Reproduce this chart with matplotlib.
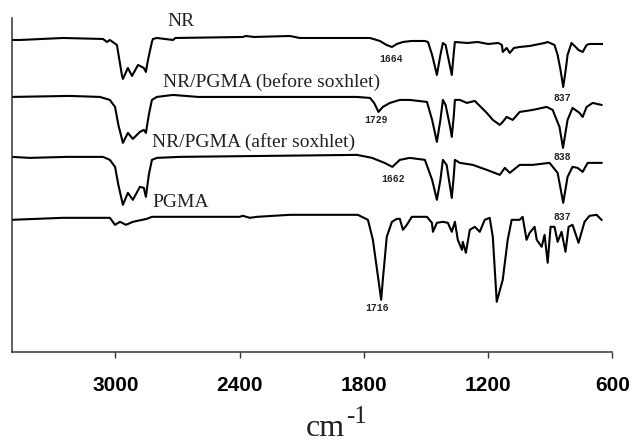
import matplotlib
matplotlib.use("Agg")
import matplotlib.pyplot as plt

# ---- data (wavenumber in cm^-1, transmittance in arbitrary offset units) ----
nr_wn = [3500, 3460, 3252, 3059, 3040, 3026, 2992, 2968, 2963, 2939, 2919, 2890, 2862, 2852, 2842,
         2823, 2818, 2799, 2721, 2710, 2384, 2370, 2330, 2157, 2109, 1964, 1829, 1770, 1722, 1690,
         1664, 1640, 1611, 1570, 1505, 1490, 1470, 1447, 1430, 1418, 1405, 1375, 1365, 1360, 1300,
         1250, 1200, 1150, 1133, 1129, 1110, 1095, 1075, 1047, 999, 927, 912, 879, 864, 850, 837,
         825, 816, 797, 777, 763, 743, 724, 710, 650]
nr_t = [312, 312, 314, 313, 310, 312, 307, 277, 273, 284, 276, 287, 284, 280, 292,
        310, 313, 314, 312, 314, 315, 316, 315, 316, 314, 314, 314, 314, 311, 307,
        305, 308, 310, 311, 311, 310, 297, 277, 297, 309, 307, 277, 300, 310, 309,
        310, 308, 309, 307, 300, 304, 299, 304, 305, 306, 309, 310, 307, 297, 282, 265,
        282, 297, 309, 305, 302, 300, 307, 308, 308]

before_wn = [3500, 3219, 3074, 3026, 3001, 2985, 2963, 2939, 2915, 2881, 2862, 2852, 2838, 2823,
             2799, 2721, 2600, 2109, 1833, 1770, 1750, 1729, 1708, 1674, 1626, 1578, 1495, 1470,
             1447, 1430, 1418, 1405, 1385, 1375, 1365, 1360, 1336, 1302, 1264, 1206, 1177, 1143,
             1129, 1110, 1081, 1047, 984, 917, 888, 855, 838, 816, 792, 758, 743, 724, 695, 652]
before_t = [255, 256, 255, 252, 245, 227, 209, 219, 213, 220, 222, 219, 237, 252,
            255, 257, 255, 255, 255, 254, 249, 240, 245, 249, 252, 252, 250, 232,
            210, 232, 252, 247, 227, 215, 237, 252, 252, 249, 251, 239, 232, 227,
            230, 235, 232, 240, 242, 245, 242, 225, 204, 232, 244, 239, 235, 245, 249, 247]

after_wn = [3500, 3412, 3233, 3059, 3026, 3001, 2985, 2963, 2939, 2915, 2881, 2862, 2852, 2838,
            2823, 2799, 2688, 1833, 1760, 1700, 1662, 1626, 1578, 1505, 1470, 1447, 1430, 1418,
            1400, 1375, 1365, 1360, 1336, 1274, 1206, 1143, 1119, 1095, 1047, 984, 903, 864, 837,
            816, 792, 768, 743, 719, 652]
after_t = [195, 194, 195, 195, 192, 185, 167, 147, 159, 152, 165, 164, 155, 177,
           192, 194, 195, 197, 194, 189, 185, 192, 194, 192, 172, 152, 172, 192,
           187, 154, 177, 192, 189, 187, 182, 177, 184, 179, 187, 187, 189, 179, 149,
           175, 185, 184, 180, 189, 189]

pgma_wn = [3500, 3252, 3026, 3001, 2977, 2948, 2915, 2847, 2823, 2400, 2384, 2350, 2316, 2157,
           2109, 1829, 1780, 1756, 1716, 1708, 1689, 1664, 1640, 1626, 1611, 1592, 1568, 1495,
           1471, 1466, 1447, 1418, 1394, 1375, 1360, 1346, 1326, 1322, 1307, 1288, 1264, 1240,
           1216, 1192, 1177, 1158, 1129, 1105, 1086, 1047, 1033, 1014, 999, 975, 965, 941, 927,
           912, 898, 879, 864, 845, 826, 811, 792, 763, 734, 710, 676, 652]
pgma_t = [132, 134, 134, 127, 130, 127, 130, 133, 135, 135, 136, 134, 135, 137,
          137, 137, 132, 112, 52, 72, 115, 130, 133, 133, 122, 127, 135, 135,
          129, 120, 129, 130, 129, 120, 130, 112, 102, 110, 99, 122, 125, 120,
          132, 134, 115, 50, 72, 112, 132, 132, 135, 112, 119, 125, 112, 105, 117,
          89, 125, 125, 110, 120, 100, 125, 127, 109, 130, 136, 137, 132]

trace_names = ["NR", "NR/PGMA (before soxhlet)", "NR/PGMA (after soxhlet)", "PGMA"]
peak_labels = ["1664", "837", "1729", "838", "1662", "837", "1716"]
tick_values = [3000, 2400, 1800, 1200, 600]

# ---- figure ----
fig = plt.figure(figsize=(6.34, 4.46), dpi=100)
ax = fig.add_axes([11.7 / 634, 1 - 351.7 / 446, (612.3 - 11.7) / 634, (351.7 - 18) / 446])

for wn, t in [(nr_wn, nr_t), (before_wn, before_t), (after_wn, after_t), (pgma_wn, pgma_t)]:
    ax.plot(wn, t, color="black", lw=1.5, solid_joinstyle="round")

ax.set_xlim(3500, 600)
ax.set_ylim(0, 334)

serif = "Liberation Serif"
name_pos = [(2750, 330), (2769, 270), (2823, 210), (2823, 149)]
for name, (x, y) in zip(trace_names, name_pos):
    ax.text(x, y, name, fontfamily=serif, fontsize=14, ha="left", va="center", color="#222222")

peak_pos = [(1669, 293), (840, 254), (1741, 232), (840, 195), (1660, 173), (840, 135), (1737, 44)]
for lab, (x, y) in zip(peak_labels, peak_pos):
    ax.text(x, y, lab, fontfamily="Liberation Mono", fontsize=7, fontweight="bold",
            ha="center", va="center", color="#222222")

ax.set_xticks(tick_values)
ax.set_xticklabels([str(v) for v in tick_values], fontfamily="Liberation Sans",
                   fontweight="bold", fontsize=15)
ax.tick_params(axis="x", direction="out", length=4.3, width=1.0, pad=13, color="#333333")
ax.set_yticks([])
for s in ["top", "right"]:
    ax.spines[s].set_visible(False)
for s in ["left", "bottom"]:
    ax.spines[s].set_linewidth(1.1)
    ax.spines[s].set_color("#333333")

# axis title "cm-1"
fig.text(345 / 634, (446 - 436) / 446, "cm", fontfamily=serif, fontsize=23,
         ha="right", va="baseline", color="#222222")
fig.text(346 / 634, (446 - 423) / 446, "-1", fontfamily=serif, fontsize=18,
         ha="left", va="baseline", color="#222222")

fig.savefig("out.png", dpi=100)
